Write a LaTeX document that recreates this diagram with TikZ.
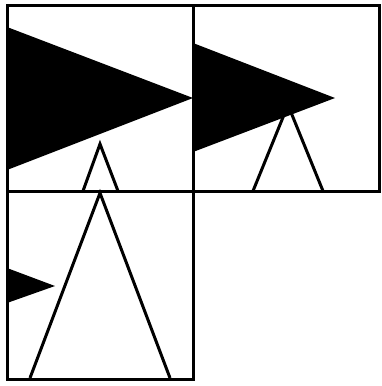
\documentclass[tikz,border=0pt]{standalone}
\usepackage{tikz}

\begin{document}
\begin{tikzpicture}[
  x=1pt, y=-1pt,
  cell/.style={draw=black, line width=3pt},
  wedge/.style={fill=black, draw=none},
  spike/.style={draw=black, line width=3pt, line join=miter}
]
\useasboundingbox (0,0) rectangle (381,386);
% wedges and spikes first, frames on top
\fill[wedge] (7,27) -- (193,98) -- (7,170) -- cycle;
\draw[spike] (83,191) -- (100,144) -- (118,191);
\draw[spike] (253,191) -- (288,105) -- (323,191);
\fill[wedge] (193,43) -- (335,98) -- (193,152) -- cycle;
\draw[spike] (30,378) -- (100,193) -- (170,378);
\fill[wedge] (7,268) -- (55,286) -- (7,303) -- cycle;
% the three cells
\draw[cell] (7,5) rectangle (193,191);
\draw[cell] (193,5) rectangle (379,191);
\draw[cell] (7,191) rectangle (193,379);
\end{tikzpicture}
\end{document}
